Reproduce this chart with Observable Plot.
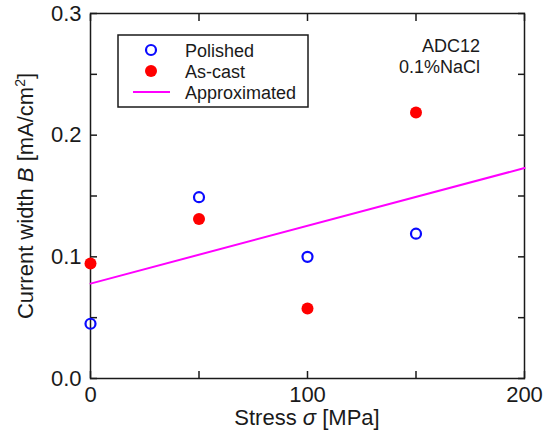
<!DOCTYPE html>
<html>
<head>
<meta charset="utf-8">
<script src="https://cdn.jsdelivr.net/npm/d3@7"></script>
<script src="https://cdn.jsdelivr.net/npm/@observablehq/plot@0.6"></script>
<style>
  body { margin: 0; background: #fff; }
  svg { font-family: "Liberation Sans", Arial, sans-serif; }
</style>
</head>
<body>
<div id="chart"></div>
<script>
// Measured current width B against applied stress (ADC12 in 0.1% NaCl)
const stress = [0, 50, 100, 150];
const polishedB = [0.045, 0.149, 0.1, 0.119];
const asCastB = [0.0945, 0.131, 0.0575, 0.2186];

// Linear approximation over both surface conditions
const fitStress = [0, 200];
const fitB = [0.078, 0.173];

// Axis ticks
const xTickValues = [0, 50, 100, 150, 200];
const xTickLabels = [0, 100, 200];
const yTickValues = [0, 0.05, 0.1, 0.15, 0.2, 0.25, 0.3];
const yTickLabels = [0, 0.1, 0.2, 0.3];

const seriesNames = ["Polished", "As-cast", "Approximated"];
const annotation = ["ADC12", "0.1%NaCl"];

const colors = { polished: "#0a0aff", asCast: "#ff0000", fit: "#ff00ff" };
const ink = "#1a1a1a";

const polished = stress.map((s, i) => ({ s, b: polishedB[i] }));
const asCast = stress.map((s, i) => ({ s, b: asCastB[i] }));
const fit = fitStress.map((s, i) => ({ s, b: fitB[i] }));

const blank = () => "";
const tickStyle = { tickSize: -7, tickFormat: blank, label: null, stroke: ink, strokeWidth: 1.5 };

const plot = Plot.plot({
  width: 555,
  height: 435,
  marginLeft: 90,
  marginRight: 31,
  marginTop: 13,
  marginBottom: 57,
  x: { domain: [0, 200] },
  y: { domain: [0, 0.3] },
  style: { fontFamily: "Liberation Sans, Arial, sans-serif", fontSize: "22px", color: ink, background: "white", overflow: "visible" },
  marks: [
    // inward ticks on all four sides
    Plot.axisX(xTickValues, { anchor: "bottom", ...tickStyle }),
    Plot.axisX(xTickValues, { anchor: "top", ...tickStyle }),
    Plot.axisY(yTickValues, { anchor: "left", ...tickStyle }),
    Plot.axisY(yTickValues, { anchor: "right", ...tickStyle }),
    // tick labels
    Plot.axisX(xTickLabels, { anchor: "bottom", tickSize: 0, tickPadding: 8, label: null, fill: ink }),
    Plot.axisY(yTickLabels, { anchor: "left", tickSize: 0, tickPadding: 9, tickFormat: d3.format(".1f"), label: null, fill: ink }),
    Plot.frame({ stroke: ink, strokeWidth: 1.5 }),
    Plot.line(fit, { x: "s", y: "b", stroke: colors.fit, strokeWidth: 2 }),
    Plot.dot(polished, { x: "s", y: "b", r: 5, stroke: colors.polished, strokeWidth: 2.2, fill: "none", clip: false }),
    Plot.dot(asCast, { x: "s", y: "b", r: 6, fill: colors.asCast, stroke: "none", clip: false })
  ]
});

const svg = d3.select(plot);

// Axis titles
const yTitle = svg.append("text")
  .attr("transform", "translate(33,196) rotate(-90)")
  .attr("text-anchor", "middle")
  .attr("font-size", 22)
  .attr("fill", ink);
yTitle.append("tspan").text("Current width ");
yTitle.append("tspan").attr("font-style", "italic").text("B");
yTitle.append("tspan").text(" [mA/cm");
yTitle.append("tspan").attr("font-size", 14).attr("dy", -8).text("2");
yTitle.append("tspan").attr("dy", 8).text("]");

const xTitle = svg.append("text")
  .attr("x", 307).attr("y", 425)
  .attr("text-anchor", "middle")
  .attr("font-size", 22)
  .attr("fill", ink);
xTitle.append("tspan").text("Stress ");
xTitle.append("tspan").attr("font-style", "italic").text("σ");
xTitle.append("tspan").text(" [MPa]");

// Legend
const legend = svg.append("g").attr("font-size", 18).attr("fill", ink).attr("text-anchor", "start");
legend.append("rect")
  .attr("x", 118).attr("y", 35).attr("width", 190).attr("height", 72)
  .attr("fill", "white").attr("stroke", ink).attr("stroke-width", 1.5);
const rows = [50, 71, 92];
legend.append("circle").attr("cx", 151).attr("cy", rows[0]).attr("r", 5)
  .attr("fill", "none").attr("stroke", colors.polished).attr("stroke-width", 2.2);
legend.append("circle").attr("cx", 151).attr("cy", rows[1]).attr("r", 6)
  .attr("fill", colors.asCast);
legend.append("line").attr("x1", 133).attr("x2", 170).attr("y1", rows[2]).attr("y2", rows[2])
  .attr("stroke", colors.fit).attr("stroke-width", 2);
seriesNames.forEach((name, i) => {
  legend.append("text").attr("x", 185).attr("y", rows[i] + 6.5).text(name);
});

// Alloy and solution note
const note = svg.append("g").attr("font-size", 18).attr("fill", ink).attr("text-anchor", "end");
annotation.forEach((line, i) => {
  note.append("text").attr("x", 480).attr("y", 52 + i * 21).text(line);
});

document.getElementById("chart").append(plot);
</script>
</body>
</html>
